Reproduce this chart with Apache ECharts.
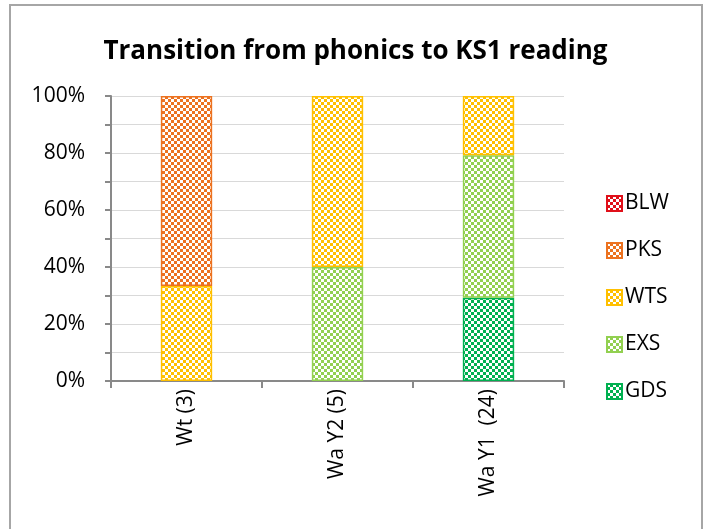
<!DOCTYPE html>
<html>
<head>
<meta charset="utf-8">
<script src="https://cdn.jsdelivr.net/npm/echarts@6/dist/echarts.min.js"></script>
<style>
  html, body { margin: 0; padding: 0; background: #fff; }
  #chart { width: 711px; height: 529px; }
</style>
</head>
<body>
<div id="chart"></div>
<script>
// values (percent of each group); null = no bar segment
const categories = ['Wt (3)', 'Wa Y2 (5)', 'Wa Y1  (24)'];
const seriesNames = ['GDS', 'EXS', 'WTS', 'PKS', 'BLW'];
const gds = [null, null, 29.2];
const exs = [null, 40, 50];
const wts = [33.3, 60, 20.8];
const pks = [66.7, null, null];
const blw = [null, null, null];
const colors = ['#00b050', '#92d050', '#ffc000', '#ec7220', '#e0101a'];
const legendOrder = ['BLW', 'PKS', 'WTS', 'EXS', 'GDS'];

const FONT = '"Open Sans", sans-serif';

// checkerboard fill like Excel's "large checker board" pattern
function checker(color) {
  const c = document.createElement('canvas');
  c.width = 6; c.height = 6;
  const ctx = c.getContext('2d');
  ctx.fillStyle = color;
  ctx.fillRect(0, 0, 6, 6);
  ctx.fillStyle = '#fff';
  ctx.fillRect(0, 0, 3, 3);
  ctx.fillRect(3, 3, 3, 3);
  return { image: c, repeat: 'repeat' };
}

const allData = [gds, exs, wts, pks, blw];
const series = seriesNames.map((name, i) => ({
  name: name,
  type: 'bar',
  stack: 'total',
  barWidth: '34%',
  data: allData[i],
  itemStyle: {
    color: checker(colors[i]),
    borderColor: colors[i],
    borderWidth: 1.5
  }
}));

const chart = echarts.init(document.getElementById('chart'));
chart.setOption({
  animation: false,
  title: {
    text: 'Transition from phonics to KS1 reading',
    left: 'center',
    top: 34,
    textStyle: { fontFamily: FONT, fontWeight: 'bold', fontSize: 26, color: '#000' }
  },
  graphic: [{
    type: 'rect',
    shape: { x: 10, y: 5, width: 692, height: 600 },
    style: { fill: 'none', stroke: '#a6a6a6', lineWidth: 2 },
    silent: true
  }],
  legend: {
    orient: 'vertical',
    left: 601,
    top: 188,
    itemGap: 26,
    itemWidth: 15,
    itemHeight: 15,
    icon: 'rect',
    data: legendOrder,
    textStyle: { fontFamily: FONT, fontSize: 21, lineHeight: 21, color: '#000', padding: [0, 0, 0, -2] }
  },
  grid: { left: 111, right: 147, top: 96, bottom: 148 },
  xAxis: {
    type: 'category',
    data: categories,
    axisLine: { lineStyle: { color: '#898989', width: 2 } },
    axisTick: { show: true, length: 7, lineStyle: { color: '#898989', width: 2 } },
    axisLabel: { rotate: 90, fontFamily: FONT, fontSize: 21, color: '#000', margin: 8 }
  },
  yAxis: {
    type: 'value',
    min: 0,
    max: 100,
    interval: 10,
    axisLine: { show: true, lineStyle: { color: '#898989', width: 2 } },
    axisTick: { show: true, length: 6, lineStyle: { color: '#898989', width: 2 } },
    splitLine: { lineStyle: { color: '#d9d9d9', width: 1 } },
    axisLabel: {
      fontFamily: FONT, fontSize: 21, color: '#000', margin: 26,
      formatter: v => (Math.round(v) % 20 === 0 ? v + '%' : '')
    }
  },
  series: series
});
</script>
</body>
</html>
